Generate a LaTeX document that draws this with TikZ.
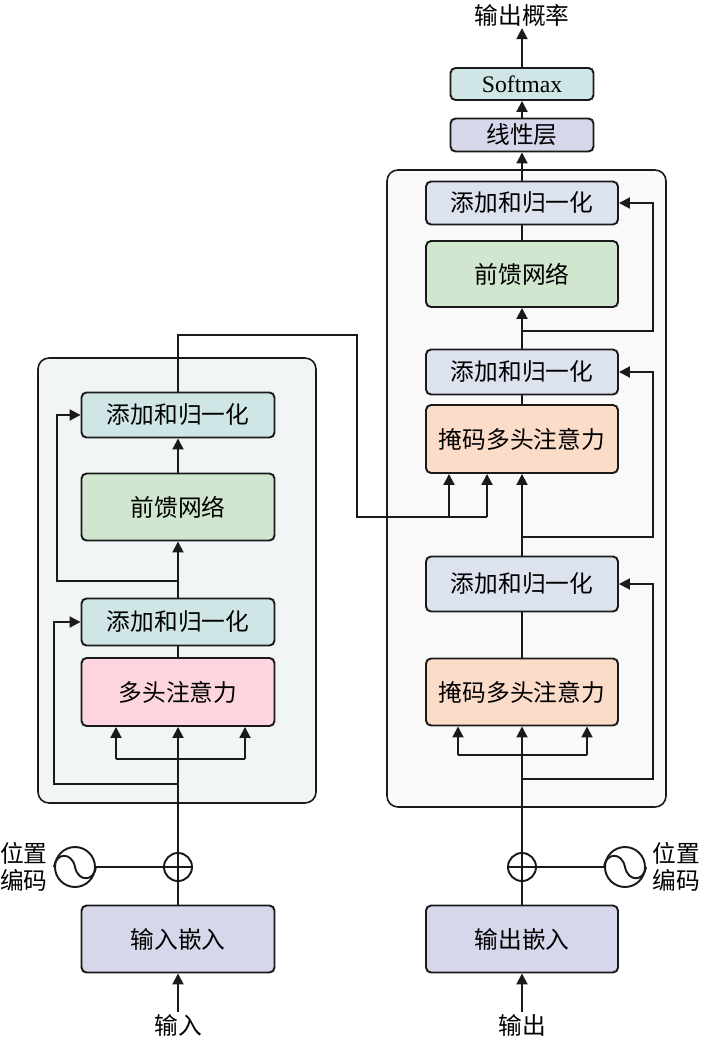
\documentclass[tikz,border=0pt]{standalone}
\usepackage{fontspec}
\setmainfont{Liberation Serif}
\newfontfamily\cjk{Noto Sans CJK SC}
\usetikzlibrary{arrows.meta}
\definecolor{linecol}{HTML}{1A1A1A}
\definecolor{tealbox}{HTML}{D0E6E6}
\definecolor{greenbox}{HTML}{D1E6CE}
\definecolor{pinkbox}{HTML}{FDD5DE}
\definecolor{lavbox}{HTML}{D7D7EB}
\definecolor{bluebox}{HTML}{DCE3EE}
\definecolor{peachbox}{HTML}{FBDCC9}
\definecolor{encpanel}{HTML}{F1F5F5}
\definecolor{decpanel}{HTML}{F9F9F9}

\begin{document}
\begin{tikzpicture}[x=0.02cm,y=-0.02cm,
		box/.style={draw=linecol, line width=1.1pt, rounded corners=0.1cm, minimum width=3.86cm, inner sep=0pt, font=\cjk\fontsize{13.5}{16}\selectfont},
		panel/.style={draw=linecol, line width=0.9pt, rounded corners=0.22cm},
		conn/.style={draw=linecol, line width=1.1pt},
		arr/.style={-{Triangle[length=0.22cm,width=0.22cm]}},
		lbl/.style={font=\cjk\fontsize{13.5}{15.5}\selectfont, align=center, inner sep=1pt},
		ring/.style={circle, draw=linecol, line width=1.1pt, inner sep=0pt}]
		\useasboundingbox (0,0) rectangle (700,1038);
		\draw[panel, fill=encpanel] (38,358) rectangle (316,803);
		\draw[panel, fill=decpanel] (387,170) rectangle (666,807);

		\node[box, fill=tealbox, minimum height=0.9cm] (ean2) at (178,415) {添加和归一化};
		\node[box, fill=greenbox, minimum height=1.34cm] (eff) at (178,507) {前馈网络};
		\node[box, fill=tealbox, minimum height=0.94cm] (ean1) at (178,622) {添加和归一化};
		\node[box, fill=pinkbox, minimum height=1.36cm] (eatt) at (178,692) {多头注意力};
		\node[box, fill=lavbox, minimum height=1.34cm] (eemb) at (178,939) {输入嵌入};
		\node[ring, minimum size=0.56cm] (eplus) at (178,867) {};
		\node[ring, minimum size=0.8cm] (epos) at (75,867) {};
		\node[lbl] (epostxt) at (24,867) {位置\\编码};
		\node[lbl] (ein) at (178,1025) {输入};

		\node[lbl] (prob) at (522,15) {输出概率};
		\node[box, fill=tealbox, minimum width=2.86cm, minimum height=0.64cm, font=\fontsize{13.5}{16}\selectfont] (soft) at (522,84) {Softmax};
		\node[box, fill=lavbox, minimum width=2.86cm, minimum height=0.66cm] (linear) at (522,135) {线性层};
		\node[box, fill=bluebox, minimum width=3.84cm, minimum height=0.86cm] (dan2) at (522,203) {添加和归一化};
		\node[box, fill=greenbox, minimum width=3.84cm, minimum height=1.32cm] (dff) at (522,274) {前馈网络};
		\node[box, fill=bluebox, minimum width=3.84cm, minimum height=0.9cm] (dan1) at (522,372) {添加和归一化};
		\node[box, fill=peachbox, minimum width=3.84cm, minimum height=1.36cm] (datt2) at (522,439) {掩码多头注意力};
		\node[box, fill=bluebox, minimum width=3.84cm, minimum height=1.1cm] (dan0) at (522,584) {添加和归一化};
		\node[box, fill=peachbox, minimum width=3.84cm, minimum height=1.34cm] (datt1) at (522,692) {掩码多头注意力};
		\node[box, fill=lavbox, minimum width=3.84cm, minimum height=1.34cm] (demb) at (522,939) {输出嵌入};
		\node[ring, minimum size=0.56cm] (dplus) at (522,867) {};
		\node[ring, minimum size=0.8cm] (dpos) at (625,867) {};
		\node[lbl] (dpostxt) at (676,867) {位置\\编码};
		\node[lbl] (dout) at (522,1025) {输出};

		\coordinate (ebl) at (116,759);
		\coordinate (ebr) at (245,759);
		\coordinate (er1) at (178,784);
		\coordinate (ex1) at (54,784);
		\coordinate (er2) at (178,581);
		\coordinate (ex2) at (57,581);
		\coordinate (cA) at (178,335);
		\coordinate (cB) at (357,335);
		\coordinate (cC) at (357,517);
		\coordinate (cD) at (449,517);
		\coordinate (cE) at (487,517);
		\coordinate (dbl) at (458,755);
		\coordinate (dbr) at (587,755);
		\coordinate (dr0) at (522,779);
		\coordinate (dx0) at (653,779);
		\coordinate (dr1) at (522,537);
		\coordinate (dx1) at (653,537);
		\coordinate (dr2) at (522,331);
		\coordinate (dx2) at (653,331);

		\draw[conn, arr] (ein) -- (eemb);
		\draw[conn, arr] (eemb.north) -- (eatt.south);
		\draw[conn] (epos.east) -- (eplus.east);
		\draw[conn, arr] (ebl) -- (ebl |- eatt.south);
		\draw[conn] (ebl) -- (ebr);
		\draw[conn, arr] (ebr) -- (ebr |- eatt.south);
		\draw[conn, arr] (er1) -- (ex1) |- (ean1.west);
		\draw[conn] (eatt) -- (ean1);
		\draw[conn, arr] (ean1) -- (eff);
		\draw[conn, arr] (er2) -- (ex2) |- (ean2.west);
		\draw[conn, arr] (eff) -- (ean2);
		\draw[conn] (ean2.north) -- (cA) -- (cB) -- (cC) -- (cE);
		\draw[conn, arr] (cD) -- (cD |- datt2.south);
		\draw[conn, arr] (cE) -- (cE |- datt2.south);

		\draw[conn, arr] (dout) -- (demb);
		\draw[conn, arr] (demb.north) -- (datt1.south);
		\draw[conn] (dpos.west) -- (dplus.west);
		\draw[conn, arr] (dbl) -- (dbl |- datt1.south);
		\draw[conn] (dbl) -- (dbr);
		\draw[conn, arr] (dbr) -- (dbr |- datt1.south);
		\draw[conn, arr] (dr0) -- (dx0) |- (dan0.east);
		\draw[conn] (datt1) -- (dan0);
		\draw[conn, arr] (dan0) -- (datt2);
		\draw[conn, arr] (dr1) -- (dx1) |- (dan1.east);
		\draw[conn] (datt2) -- (dan1);
		\draw[conn, arr] (dan1) -- (dff);
		\draw[conn, arr] (dr2) -- (dx2) |- (dan2.east);
		\draw[conn] (dff) -- (dan2);
		\draw[conn, arr] (dan2) -- (linear);
		\draw[conn, arr] (linear) -- (soft);
		\draw[conn, arr] (soft) -- (prob);

		\draw[conn] (epos.west) .. controls +(0.04cm,0.3cm) and +(-0.06cm,0.3cm) .. (epos.center) .. controls +(0.06cm,-0.3cm) and +(-0.04cm,-0.3cm) .. (epos.east);
		\draw[conn] (dpos.west) .. controls +(0.04cm,0.3cm) and +(-0.06cm,0.3cm) .. (dpos.center) .. controls +(0.06cm,-0.3cm) and +(-0.04cm,-0.3cm) .. (dpos.east);
\end{tikzpicture}
\end{document}
